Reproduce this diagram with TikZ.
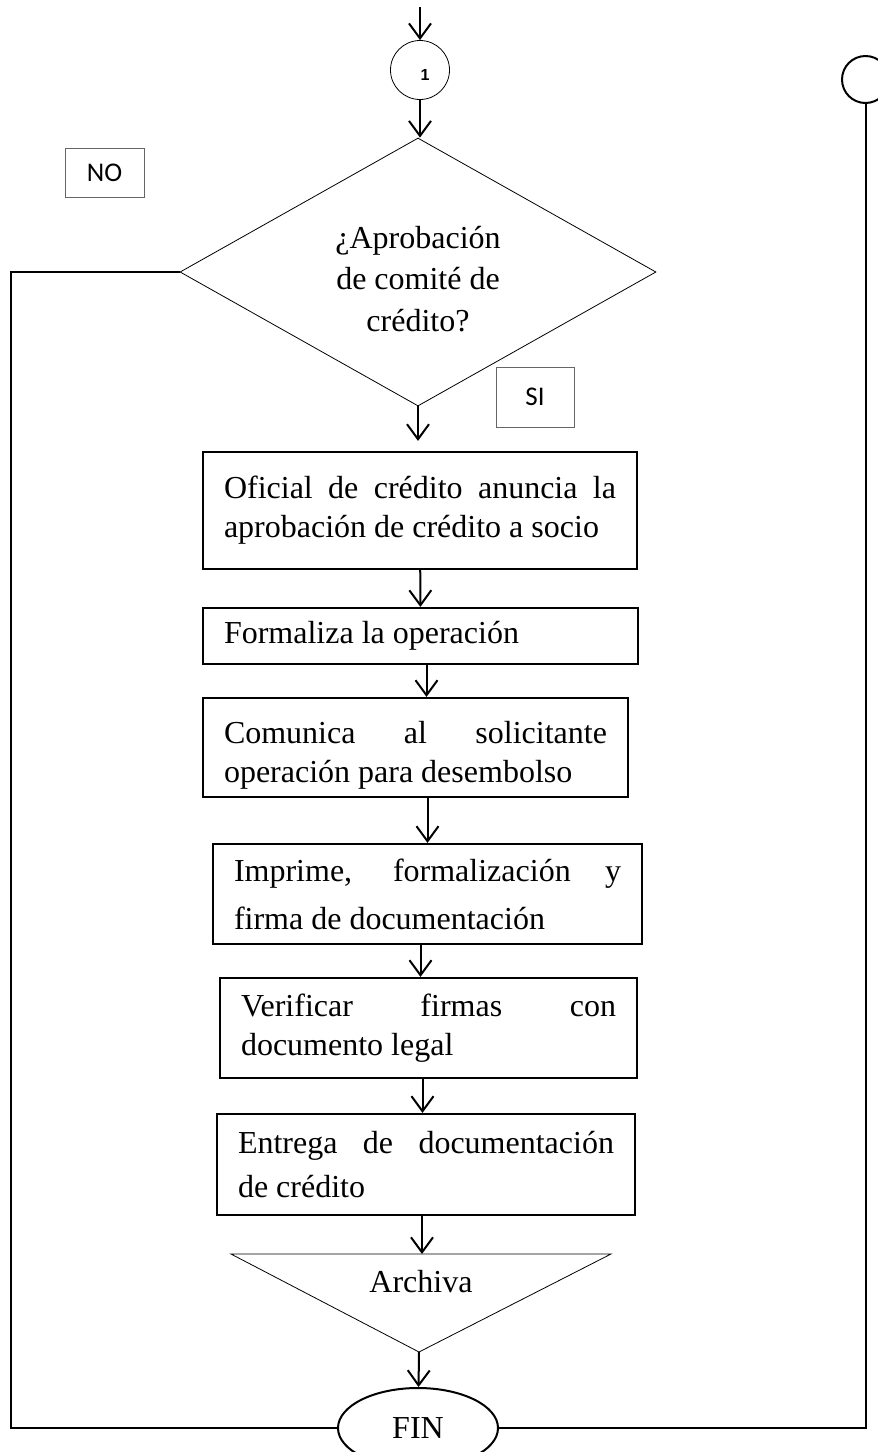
\documentclass[tikz,border=0pt]{standalone}
\usepackage{fontspec}
\setmainfont{Liberation Serif}
\newfontfamily\tagfont{Carlito}
\newfontfamily\numfont{Liberation Sans}
\usetikzlibrary{arrows.meta,shapes.geometric}
\tolerance=10000
\hbadness=10000
\tikzset{stepbox/.style={draw,line width=2.2pt,inner xsep=21pt,inner ysep=0pt,align=justify,font=\fontsize{32}{39}\selectfont},tag/.style={draw=black!60,line width=0.8pt,inner sep=0pt,font=\tagfont\fontsize{27}{30}\selectfont},flow/.style={-{Straight Barb[length=15pt,width=22pt]},line width=2pt},link/.style={line width=2pt}}

\begin{document}
\begin{tikzpicture}[x=1pt,y=-1pt]
\useasboundingbox (0,0) rectangle (878,1452);
\clip (0,0) rectangle (878,1452);
\coordinate (top) at (420,7);
\node[circle,draw,line width=0.8pt,minimum size=59pt,inner sep=0pt,label={[font=\numfont\bfseries\fontsize{16}{16}\selectfont,inner sep=0pt,xshift=5pt,yshift=-5pt]center:1}] (con1) at (420,70) {};
\node[circle,draw,line width=2pt,minimum size=47pt,inner sep=0pt] (back) at (865.5,79.5) {};
\node[tag,minimum width=79pt,minimum height=49pt] (no) at (104.5,172.5) {NO};
\node[diamond,draw,line width=0.8pt,minimum width=476pt,minimum height=268pt,inner sep=0pt,label={[align=center,inner sep=0pt,yshift=-7pt,font=\fontsize{32}{41.5}\selectfont]center:¿Aprobación\\de comité de\\crédito?}] (ask) at (418,272) {};
\node[tag,minimum width=78pt,minimum height=60pt] (si) at (535,397) {SI};
\node[stepbox,text width=392pt,minimum height=117pt] (ofi) at (420,510.5) {Oficial de crédito anuncia la\linebreak aprobación de crédito a socio};
\node[stepbox,text width=393pt,minimum height=56pt] (form) at (420.5,636) {Formaliza la operación};
\node[stepbox,text width=383pt,minimum height=99pt] (comu) at (415.5,747.5) {\rule{0pt}{38pt}Comunica al solicitante\linebreak operación para desembolso};
\node[stepbox,text width=387pt,minimum height=100pt,font=\fontsize{32}{48}\selectfont] (impr) at (427.5,894) {Imprime, formalización y\linebreak firma de documentación};
\node[stepbox,text width=375pt,minimum height=100pt] (veri) at (428.5,1028) {Verificar firmas con\linebreak documento legal};
\node[stepbox,text width=376pt,minimum height=101pt,font=\fontsize{32}{44}\selectfont] (entr) at (426,1164.5) {Entrega de documentación\linebreak de crédito};
\coordinate (archl) at (231,1254);
\coordinate (archr) at (611,1254);
\coordinate (archb) at (419,1352);
\coordinate (archt) at (422,1254);
\node[font=\fontsize{32}{39}\selectfont,inner sep=0pt] (arch) at (421,1282) {Archiva};
\node[ellipse,draw,line width=2pt,minimum width=160pt,minimum height=80pt,inner sep=0pt,font=\fontsize{32}{39}\selectfont] (fin) at (418,1428) {FIN};
\coordinate (lft) at (11,272);
\draw[line width=0.8pt] (archl) -- (archr) -- (archb) -- cycle;
\draw[flow] (top) -- (con1);
\draw[flow] (con1) -- (con1 |- ask.north);
\draw[flow,shorten >=10pt] (ask.south) -- (ask.south |- ofi.north);
\draw[flow] (ofi) -- (form);
\draw[flow] ([xshift=6pt]form.south) -- ([xshift=6pt]form.south |- comu.north);
\draw[flow] (impr.north |- comu.south) -- (impr);
\draw[flow] ([xshift=-7pt]impr.south) -- ([xshift=-7pt]impr.south |- veri.north);
\draw[flow] ([xshift=-6pt]veri.south) -- ([xshift=-6pt]veri.south |- entr.north);
\draw[flow] (archt |- entr.south) -- (archt);
\draw[flow] (archb) -- (fin);
\draw[link] (ask.west) -- (lft) |- (fin.west);
\draw[link] (back) |- (fin.east);
\end{tikzpicture}
\end{document}
